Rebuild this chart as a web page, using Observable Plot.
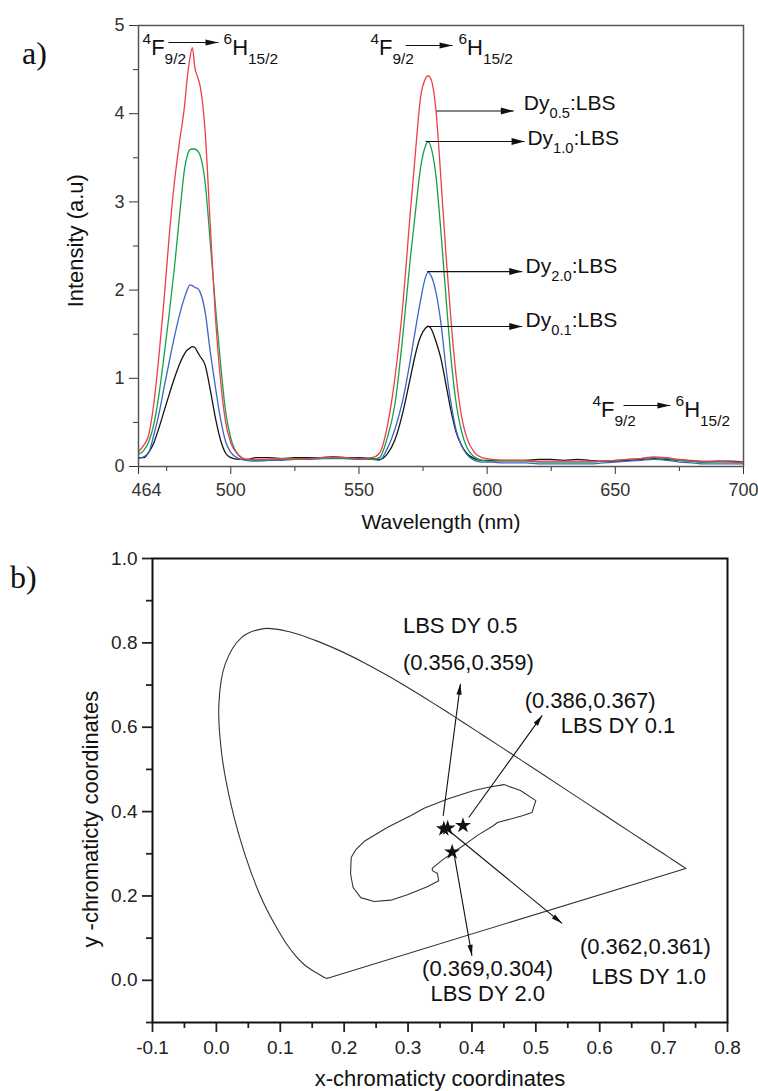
<!DOCTYPE html>
<html>
<head>
<meta charset="utf-8">
<script src="https://cdn.jsdelivr.net/npm/d3@7"></script>
<script src="https://cdn.jsdelivr.net/npm/@observablehq/plot@0.6"></script>
<style>
  html, body { margin: 0; padding: 0; background: #fff; }
  #fig { position: relative; width: 758px; height: 1091px; overflow: hidden; }
  #fig svg { position: absolute; left: 0; }
  .panel { position: absolute; font-family: "Liberation Serif", "Times New Roman", serif; font-size: 32px; line-height: 32px; color: #111; }
</style>
</head>
<body>
<div id="fig"></div>
<script>
const FONT = '"Liberation Sans", Arial, Helvetica, sans-serif';

// ---- a) emission spectra -------------------------------------------------
const wavelength = [464,466,468,470,472,474,476,478,480,482,483,484,485,486,487,488,490,492,494,496,498,500,503,506,
  510,515,520,525,530,535,540,545,550,555,
  558,561,564,567,570,572,574,576,577,578,580,582,584,586,588,590,592,595,598,602,
  606,610,615,620,625,630,635,640,645,650,655,660,665,670,675,680,685,690,695,700];

const dy05 = [0.17,0.24,0.36,0.72,1.26,1.9,2.62,3.22,3.68,4.1,4.4,4.62,4.75,4.52,4.42,4.32,3.8,2.73,1.7,0.98,0.5,0.27,0.13,0.08,
  0.08,0.08,0.09,0.09,0.09,0.1,0.1,0.1,0.09,0.1,
  0.15,0.45,1.0,1.8,2.87,3.55,4.18,4.4,4.43,4.4,4.05,3.25,2.38,1.62,1.0,0.57,0.33,0.16,0.1,0.08,
  0.07,0.07,0.07,0.06,0.06,0.06,0.06,0.06,0.06,0.07,0.08,0.09,0.11,0.1,0.08,0.07,0.06,0.06,0.05,0.05];
const dy10 = [0.14,0.18,0.28,0.48,0.82,1.26,1.74,2.25,2.84,3.38,3.52,3.59,3.6,3.6,3.58,3.53,3.22,2.54,1.82,1.17,0.62,0.32,0.13,0.08,
  0.07,0.08,0.08,0.08,0.09,0.09,0.1,0.09,0.09,0.08,
  0.1,0.32,0.7,1.45,2.35,2.88,3.38,3.64,3.68,3.63,3.3,2.65,1.9,1.2,0.7,0.4,0.22,0.11,0.07,0.06,
  0.06,0.06,0.06,0.05,0.05,0.05,0.05,0.05,0.06,0.07,0.08,0.09,0.1,0.09,0.07,0.06,0.05,0.05,0.05,0.04];
const dy20 = [0.09,0.11,0.16,0.36,0.6,0.9,1.19,1.47,1.72,1.92,2.0,2.06,2.05,2.03,2.02,1.98,1.75,1.3,0.9,0.54,0.28,0.16,0.09,0.07,
  0.06,0.07,0.07,0.08,0.08,0.09,0.09,0.09,0.08,0.08,
  0.07,0.2,0.42,0.74,1.2,1.55,1.88,2.15,2.2,2.17,1.98,1.62,1.1,0.7,0.4,0.24,0.14,0.07,0.05,0.05,
  0.04,0.04,0.04,0.03,0.03,0.03,0.03,0.03,0.04,0.05,0.06,0.07,0.08,0.07,0.05,0.04,0.03,0.03,0.03,0.03];
const dy01 = [0.1,0.1,0.16,0.27,0.44,0.63,0.82,1.0,1.16,1.28,1.32,1.34,1.36,1.35,1.3,1.25,1.15,0.87,0.55,0.3,0.15,0.1,0.08,0.08,
  0.1,0.1,0.09,0.1,0.1,0.1,0.11,0.1,0.1,0.09,
  0.08,0.14,0.3,0.6,1.0,1.27,1.47,1.57,1.59,1.57,1.42,1.22,0.92,0.62,0.38,0.24,0.15,0.09,0.07,0.07,
  0.07,0.07,0.07,0.08,0.08,0.07,0.08,0.07,0.06,0.06,0.07,0.08,0.09,0.08,0.07,0.06,0.05,0.06,0.06,0.05];

const seriesColors = ["#151515", "#3a66c6", "#17a04a", "#ef3e4a"]; // Dy0.1, Dy2.0, Dy1.0, Dy0.5

const intensityTicks = [0, 1, 2, 3, 4, 5];
const intensityMinor = [0.5, 1.5, 2.5, 3.5, 4.5];
const wavelengthTicks = [464, 500, 550, 600, 650, 700];
const wavelengthMinor = [475, 525, 575, 625, 675];

// callout arrows beside the 576 nm band: arrow x1 -> x2 at height y, label at (lx, ly)
const calloutLabel = ["Dy_{0.5}:LBS", "Dy_{1.0}:LBS", "Dy_{2.0}:LBS", "Dy_{0.1}:LBS"];
const calloutX1 = [580.2, 576.0, 576.6, 576.6];
const calloutX2 = [610.4, 614.6, 613.7, 613.7];
const calloutY = [4.03, 3.685, 2.21, 1.587];
const calloutLx = [614.3, 615.7, 615.0, 615.0];
const calloutLy = [4.04, 3.64, 2.19, 1.576];

// transition annotations 4F9/2 -> 6H15/2
const transFrom = ["^{4}F_{9/2}", "^{4}F_{9/2}", "^{4}F_{9/2}"];
const transTo = ["^{6}H_{15/2}", "^{6}H_{15/2}", "^{6}H_{15/2}"];
const transFx = [465.6, 554.5, 641.1];
const transTx = [497.2, 588.8, 673.5];
const transBase = [4.66, 4.66, 0.556];
const transAx1 = [475.7, 568.2, 653.2];
const transAx2 = [495.2, 586.5, 671.5];
const transAy = [4.807, 4.773, 0.692];

// ---- b) CIE 1931 chromaticity diagram ------------------------------------
// spectral locus, 380-700 nm in 5 nm steps
const locusX = [0.1741,0.1740,0.1738,0.1736,0.1733,0.1730,0.1726,0.1721,0.1714,
  0.1703,0.1689,0.1669,0.1644,0.1611,0.1566,0.1510,0.1440,0.1355,0.1241,
  0.1096,0.0913,0.0687,0.0454,0.0235,0.0082,0.0039,0.0139,0.0389,0.0743,
  0.1142,0.1547,0.1929,0.2296,0.2658,0.3016,0.3373,0.3731,0.4087,0.4441,
  0.4788,0.5125,0.5448,0.5752,0.6029,0.6270,0.6482,0.6658,0.6801,0.6915,
  0.7006,0.7079,0.7140,0.7190,0.7230,0.7260,0.7283,0.7300,0.7311,0.7320,
  0.7327,0.7334,0.7340,0.7344,0.7346,0.7347];
const locusY = [0.0050,0.0050,0.0049,0.0049,0.0048,0.0048,0.0048,0.0048,0.0051,
  0.0058,0.0069,0.0086,0.0109,0.0138,0.0177,0.0227,0.0297,0.0399,0.0578,
  0.0868,0.1327,0.2007,0.2950,0.4127,0.5384,0.6548,0.7502,0.8120,0.8338,
  0.8262,0.8059,0.7816,0.7543,0.7243,0.6923,0.6589,0.6245,0.5896,0.5547,
  0.5202,0.4866,0.4544,0.4242,0.3965,0.3725,0.3514,0.3340,0.3197,0.3083,
  0.2993,0.2920,0.2859,0.2809,0.2770,0.2740,0.2717,0.2700,0.2689,0.2680,
  0.2673,0.2666,0.2660,0.2656,0.2654,0.2653];

// inner contour
const loopX = [0.450,0.476,0.500,0.494,0.479,0.440,0.434,0.408,0.390,0.356,0.338,0.338,0.346,0.348,0.330,0.299,
  0.273,0.247,0.226,0.214,0.210,0.211,0.218,0.231,0.268,0.304,0.325,0.362,0.403,0.424,0.450];
const loopY = [0.464,0.450,0.426,0.398,0.390,0.374,0.367,0.343,0.323,0.288,0.266,0.260,0.253,0.236,0.222,0.203,
  0.190,0.187,0.196,0.220,0.252,0.291,0.309,0.329,0.363,0.390,0.408,0.430,0.450,0.457,0.464];

// sample coordinates
const sampleName = ["LBS DY 0.5", "LBS DY 1.0", "LBS DY 0.1", "LBS DY 2.0"];
const sampleX = [0.356, 0.362, 0.386, 0.369];
const sampleY = [0.359, 0.361, 0.367, 0.304];
// arrow tail / tip, name and coordinate label anchors
const arrowTail = [[0.355, 0.39], [0.367, 0.351], [0.395, 0.386], [0.372, 0.299]];
const arrowTip = [[0.382, 0.703], [0.541, 0.135], [0.510, 0.628], [0.400, 0.058]];
const nameAt = [[0.292, 0.841], [0.587, 0.007], [0.539, 0.604], [0.335, -0.033]];
const coordAt = [[0.292, 0.752], [0.569, 0.078], [0.4825, 0.663], [0.322, 0.027]];

const cieXTicks = [-0.1, 0.0, 0.1, 0.2, 0.3, 0.4, 0.5, 0.6, 0.7, 0.8];
const cieXMinor = [-0.05, 0.05, 0.15, 0.25, 0.35, 0.45, 0.55, 0.65, 0.75];
const cieYTicks = [0.0, 0.2, 0.4, 0.6, 0.8, 1.0];
const cieYMinor = [-0.1, 0.1, 0.3, 0.5, 0.7, 0.9];

// ---- helpers ---------------------------------------------------------------
// filled arrowhead with its tip at the origin, pointing up before rotation
const arrowHead = (len, half) => ({
  draw(ctx) { ctx.moveTo(0, 0); ctx.lineTo(half, len); ctx.lineTo(-half, len); ctx.closePath(); }
});

// turn "^{..}" and "_{..}" markup inside SVG text into super/subscript tspans
function richText(svg) {
  d3.select(svg).selectAll("text").each(function () {
    const s = this.textContent;
    if (!/[_^]\{/.test(s)) return;
    const fs = parseFloat(getComputedStyle(this).fontSize);
    while (this.firstChild) this.removeChild(this.firstChild);
    let shift = 0;
    for (const m of s.matchAll(/([_^])\{([^}]*)\}|([^_^]+)/g)) {
      const t = document.createElementNS("http://www.w3.org/2000/svg", "tspan");
      let target = 0;
      if (m[1]) {
        t.setAttribute("font-size", (0.7 * fs).toFixed(1));
        target = m[1] === "^" ? -0.5 * fs : 0.38 * fs;
        t.textContent = m[2];
      } else {
        t.textContent = m[3];
      }
      if (target !== shift) t.setAttribute("dy", (target - shift).toFixed(1));
      shift = target;
      this.appendChild(t);
    }
  });
}

const fig = document.getElementById("fig");

// ---- panel a ---------------------------------------------------------------
const series = [dy01, dy20, dy10, dy05].map((vals) => wavelength.map((w, i) => ({w, v: vals[i]})));
const callouts = calloutLabel.map((label, i) => ({label, x1: calloutX1[i], x2: calloutX2[i], y: calloutY[i], lx: calloutLx[i], ly: calloutLy[i]}));
const transitions = transFrom.map((from, i) => ({from, to: transTo[i], fx: transFx[i], tx: transTx[i], base: transBase[i], ax1: transAx1[i], ax2: transAx2[i], ay: transAy[i]}));

const spectra = Plot.plot({
  width: 758, height: 540,
  marginLeft: 138, marginRight: 15, marginTop: 25, marginBottom: 74,
  style: {fontFamily: FONT, background: "transparent", color: "#222"},
  x: {domain: [464, 700]},
  y: {domain: [0, 5]},
  marks: [
    Plot.axisY(intensityTicks, {tickSize: 9, tickPadding: 5, fontSize: 18, label: null, color: "#333", tickFormat: (d) => String(d)}),
    Plot.axisY(intensityMinor, {tickSize: 5, tickFormat: () => "", label: null, color: "#333"}),
    Plot.axisX(wavelengthTicks, {tickSize: 8, tickPadding: 9, fontSize: 18, label: null, color: "#333",
      tickFormat: (d) => (d === 464 ? "" : String(d))}),
    Plot.axisX(wavelengthMinor, {tickSize: 5, tickFormat: () => "", label: null, color: "#333"}),
    Plot.text([464], {x: (d) => d, text: (d) => String(d), frameAnchor: "bottom", lineAnchor: "top", textAnchor: "middle", dy: 17, dx: 8, fontSize: 18, fill: "#333"}),
    ...series.map((rows, k) => Plot.line(rows, {x: "w", y: "v", stroke: seriesColors[k], strokeWidth: 1.3, curve: "monotone-x"})),
    Plot.frame({stroke: "#555", strokeWidth: 1.5}),
    // callouts
    Plot.link(callouts, {x1: "x1", x2: "x2", y1: "y", y2: "y", stroke: "#111", strokeWidth: 1.1}),
    Plot.dot(callouts, {x: "x2", y: "y", symbol: arrowHead(13, 3.5), rotate: 90, fill: "#111", stroke: "none"}),
    Plot.text(callouts, {x: "lx", y: "ly", text: "label", textAnchor: "start", lineAnchor: "bottom", fontSize: 21, fill: "#111"}),
    // transitions
    Plot.link(transitions, {x1: "ax1", x2: "ax2", y1: "ay", y2: "ay", stroke: "#111", strokeWidth: 1.1}),
    Plot.dot(transitions, {x: "ax2", y: "ay", symbol: arrowHead(13, 3), rotate: 90, fill: "#111", stroke: "none"}),
    Plot.text(transitions, {x: "fx", y: "base", text: "from", textAnchor: "start", lineAnchor: "bottom", fontSize: 22, fill: "#111"}),
    Plot.text(transitions, {x: "tx", y: "base", text: "to", textAnchor: "start", lineAnchor: "bottom", fontSize: 22, fill: "#111"}),
    // axis titles
    Plot.text(["Wavelength (nm)"], {text: (d) => d, frameAnchor: "bottom", lineAnchor: "middle", textAnchor: "middle", dy: 56, fontSize: 21, fill: "#111"}),
    Plot.text(["Intensity (a.u)"], {text: (d) => d, frameAnchor: "left", lineAnchor: "middle", textAnchor: "middle", y: 2.56, dx: -63, rotate: -90, fontSize: 22, fill: "#111"})
  ]
});
spectra.style.top = "0px";
fig.appendChild(spectra);
richText(spectra);

// ---- panel b ---------------------------------------------------------------
const locus = locusX.map((x, i) => ({x, y: locusY[i]}));
const purpleLine = [locus[locus.length - 1], locus[0]];
const contour = loopX.map((x, i) => ({x, y: loopY[i]}));
const fmt3 = d3.format(".3f");
const samples = sampleName.map((name, i) => ({
  name, x: sampleX[i], y: sampleY[i],
  coord: `(${fmt3(sampleX[i])},${fmt3(sampleY[i])})`,
  tx: arrowTail[i][0], ty: arrowTail[i][1], hx: arrowTip[i][0], hy: arrowTip[i][1],
  nx: nameAt[i][0], ny: nameAt[i][1], cx: coordAt[i][0], cy: coordAt[i][1]
}));

function cieChart(headAngles) {
  return Plot.plot({
    width: 758, height: 551,
    marginLeft: 152, marginRight: 31, marginTop: 18, marginBottom: 69,
    style: {fontFamily: FONT, background: "transparent", color: "#111"},
    x: {domain: [-0.1, 0.8]},
    y: {domain: [-0.1, 1.0]},
    marks: [
      Plot.axisX(cieXTicks, {tickSize: 10, tickPadding: 8, fontSize: 19, label: null, strokeWidth: 1.8, color: "#222", tickFormat: (d) => d.toFixed(1)}),
      Plot.axisX(cieXMinor, {tickSize: 6, tickFormat: () => "", label: null, strokeWidth: 1.8, color: "#222"}),
      Plot.axisY(cieYTicks, {tickSize: 10, tickPadding: 5, fontSize: 19, label: null, strokeWidth: 1.8, color: "#222", tickFormat: (d) => d.toFixed(1)}),
      Plot.axisY(cieYMinor, {tickSize: 6, tickFormat: () => "", label: null, strokeWidth: 1.8, color: "#222"}),
      Plot.frame({stroke: "#111", strokeWidth: 2}),
      Plot.line(locus, {x: "x", y: "y", stroke: "#333", strokeWidth: 1.1, curve: "catmull-rom"}),
      Plot.line(purpleLine, {x: "x", y: "y", stroke: "#333", strokeWidth: 1.1}),
      Plot.line(contour, {x: "x", y: "y", stroke: "#333", strokeWidth: 1.1}),
      Plot.link(samples, {x1: "tx", y1: "ty", x2: "hx", y2: "hy", stroke: "#111", strokeWidth: 1.1}),
      headAngles ? Plot.dot(samples, {x: "hx", y: "hy", rotate: (d, i) => headAngles[i], symbol: arrowHead(11, 2.6), fill: "#111", stroke: "none"}) : null,
      Plot.dot(samples, {x: "x", y: "y", symbol: "star", r: 5, fill: "#111", stroke: "none"}),
      Plot.text(samples, {x: "nx", y: "ny", text: "name", textAnchor: "start", fontSize: 22, fill: "#111"}),
      Plot.text(samples, {x: "cx", y: "cy", text: "coord", textAnchor: "start", fontSize: 22, fill: "#111"}),
      Plot.text(["x-chromaticty coordinates"], {text: (d) => d, frameAnchor: "bottom", lineAnchor: "middle", textAnchor: "middle", dy: 56, fontSize: 22, fill: "#111"}),
      Plot.text(["y -chromaticty coordinates"], {text: (d) => d, frameAnchor: "left", lineAnchor: "middle", textAnchor: "middle", y: 0.382, dx: -62, rotate: -90, fontSize: 22, fill: "#111"})
    ]
  });
}

// first pass gives the scales, so each arrowhead can be turned along its arrow
const probe = cieChart(null);
const sx = probe.scale("x"), sy = probe.scale("y");
const angles = samples.map((d) => {
  const dx = sx.apply(d.hx) - sx.apply(d.tx);
  const dy = sy.apply(d.hy) - sy.apply(d.ty);
  return Math.atan2(dx, -dy) * 180 / Math.PI;
});
const cie = cieChart(angles);
cie.style.top = "540px";
fig.appendChild(cie);

// panel letters
for (const [t, left, top] of [["a)", 22, 37], ["b)", 10, 561]]) {
  const el = document.createElement("div");
  el.className = "panel";
  el.textContent = t;
  el.style.left = left + "px";
  el.style.top = top + "px";
  fig.appendChild(el);
}
</script>
</body>
</html>
